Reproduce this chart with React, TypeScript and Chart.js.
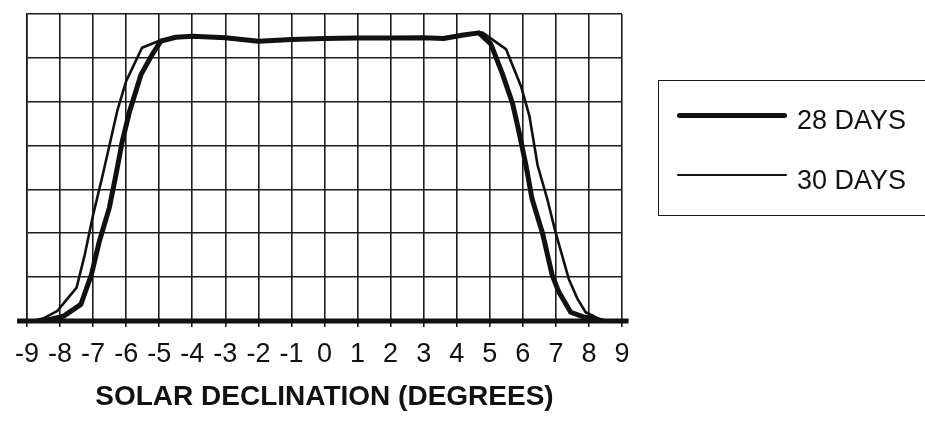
import React, { useEffect, useRef } from "react";
import { Chart, registerables } from "chart.js";

Chart.register(...registerables);

// X positions (degrees) and relative values
const thickX = [-8.6, -8.28, -7.89, -7.37, -7.05, -6.81, -6.51, -6.31, -6.12, -5.9, -5.55, -5.21, -4.95, -4.5, -4.0, -3.0, -2.0, -1.0, 0, 1, 2, 3, 3.6, 4.2, 4.67, 5.03, 5.38, 5.69, 5.89, 6.1, 6.28, 6.59, 6.89, 7.09, 7.45, 7.85, 8.4];
const thickY = [0, 0.04, 0.11, 0.38, 1.06, 1.82, 2.58, 3.33, 4.09, 4.77, 5.62, 6.08, 6.38, 6.47, 6.49, 6.46, 6.38, 6.42, 6.44, 6.45, 6.45, 6.46, 6.44, 6.52, 6.57, 6.32, 5.64, 4.96, 4.29, 3.53, 2.78, 2.02, 1.04, 0.66, 0.2, 0.09, 0];

const thinX = [-8.85, -8.5, -8.08, -7.5, -7.25, -7.0, -6.71, -6.27, -6.0, -5.52, -4.9, -4.5, -4.0, -3.0, -2.0, -1.0, 0, 1, 2, 3, 3.6, 4.2, 4.77, 5.49, 5.95, 6.2, 6.45, 6.74, 6.99, 7.39, 7.65, 7.9, 8.25, 8.5];
const thinY = [0, 0.06, 0.23, 0.76, 1.52, 2.42, 3.33, 4.79, 5.47, 6.23, 6.42, 6.47, 6.49, 6.46, 6.38, 6.42, 6.44, 6.45, 6.45, 6.46, 6.44, 6.52, 6.58, 6.2, 5.34, 4.67, 3.54, 2.78, 2.02, 0.96, 0.51, 0.2, 0.07, 0];

const baselineX = [-9.3, 9.2];
const baselineY = [0, 0];

const xTickLabels = ["-9", "-8", "-7", "-6", "-5", "-4", "-3", "-2", "-1", "0", "1", "2", "3", "4", "5", "6", "7", "8", "9"];
const seriesLabels = ["28 DAYS", "30 DAYS"];
const axisTitle = "SOLAR DECLINATION (DEGREES)";

const FONT = "'Liberation Sans', Arial, Helvetica, sans-serif";
const INK = "#111111";
const GRID = "#1c1c1c";

const toPoints = (xs: number[], ys: number[]) => xs.map((x, i) => ({ x, y: ys[i] }));

export default function App() {
  const canvasRef = useRef<HTMLCanvasElement | null>(null);

  useEffect(() => {
    const canvas = canvasRef.current;
    if (!canvas) return;
    const chart = new Chart(canvas, {
      type: "line",
      data: {
        datasets: [
          {
            label: seriesLabels[0],
            data: toPoints(thickX, thickY),
            borderColor: INK,
            borderWidth: 5,
            pointRadius: 0,
            tension: 0,
            borderJoinStyle: "round",
            borderCapStyle: "round",
            fill: false,
          },
          {
            label: seriesLabels[1],
            data: toPoints(thinX, thinY),
            borderColor: INK,
            borderWidth: 2.6,
            pointRadius: 0,
            tension: 0,
            borderJoinStyle: "round",
            borderCapStyle: "round",
            fill: false,
          },
          {
            label: "baseline",
            data: toPoints(baselineX, baselineY),
            borderColor: INK,
            borderWidth: 5,
            pointRadius: 0,
            tension: 0,
            fill: false,
            clip: false as any,
          },
        ],
      },
      options: {
        responsive: false,
        animation: false,
        events: [],
        layout: { padding: { top: 14, right: 303, left: 0, bottom: 0 } },
        plugins: {
          legend: { display: false },
          tooltip: { enabled: false },
        },
        scales: {
          x: {
            type: "linear",
            min: -9,
            max: 9,
            afterFit: (scale: any) => {
              scale.height = 100;
            },
            afterBuildTicks: (scale: any) => {
              scale.ticks = xTickLabels.map((_, i) => ({ value: i - 9 }));
            },
            ticks: {
              autoSkip: false,
              maxRotation: 0,
              minRotation: 0,
              padding: 11,
              color: INK,
              font: { family: FONT, size: 27 },
              callback: (_v: any, i: number) => xTickLabels[i],
            },
            grid: {
              color: GRID,
              lineWidth: 1.6,
              tickLength: 6,
              drawTicks: true,
            },
            border: { display: true, color: GRID, width: 1.6 },
            title: {
              display: true,
              text: axisTitle,
              color: INK,
              font: { family: FONT, size: 28, weight: "bold" },
              padding: { top: 0, bottom: 7 },
            },
          },
          y: {
            type: "linear",
            min: 0,
            max: 7,
            afterFit: (scale: any) => {
              scale.width = 27;
            },
            ticks: { display: false, stepSize: 1 },
            grid: { color: GRID, lineWidth: 1.6, drawTicks: false },
            border: { display: true, color: GRID, width: 1.6 },
          },
        },
      },
    } as any);
    return () => chart.destroy();
  }, []);

  const lineStyle = (top: number, h: number): React.CSSProperties => ({
    position: "absolute",
    left: 677,
    top: top - h / 2,
    width: 110,
    height: h,
    background: INK,
    borderRadius: h / 2,
  });
  const textStyle = (top: number): React.CSSProperties => ({
    position: "absolute",
    left: 797,
    top,
    fontFamily: FONT,
    fontSize: 27,
    lineHeight: "27px",
    color: INK,
    whiteSpace: "nowrap",
  });

  return (
    <div
      style={{
        position: "fixed",
        left: 0,
        top: 0,
        width: 925,
        height: 421,
        background: "#ffffff",
        overflow: "hidden",
      }}
    >
      <canvas ref={canvasRef} width={925} height={421} style={{ display: "block" }} />
      <div
        style={{
          position: "absolute",
          left: 658,
          top: 80,
          width: 300,
          height: 136,
          border: `1.5px solid ${GRID}`,
          boxSizing: "border-box",
        }}
      />
      <div style={lineStyle(115, 5)} />
      <div style={textStyle(106.5)}>{seriesLabels[0]}</div>
      <div style={lineStyle(175, 2.6)} />
      <div style={textStyle(166.5)}>{seriesLabels[1]}</div>
    </div>
  );
}
